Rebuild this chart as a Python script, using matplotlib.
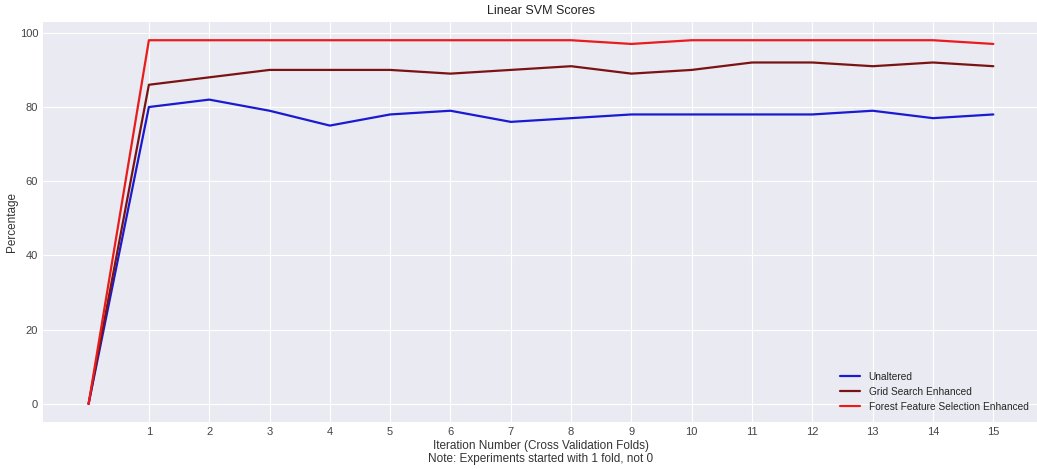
import matplotlib
matplotlib.use("Agg")
import matplotlib.pyplot as plt

plt.style.use("seaborn-v0_8-darkgrid")
plt.rcParams['font.family'] = ['Liberation Sans', 'DejaVu Sans']

iterations = list(range(0, 16))
unaltered = [0, 80, 82, 79, 75, 78, 79, 76, 77, 78, 78, 78, 78, 79, 77, 78]
grid_search = [0, 86, 88, 90, 90, 90, 89, 90, 91, 89, 90, 92, 92, 91, 92, 91]
forest = [0, 98, 98, 98, 98, 98, 98, 98, 98, 97, 98, 98, 98, 98, 98, 97]
xticks = list(range(1, 16))

fig = plt.figure(figsize=(10.37, 4.69), dpi=100)
ax = fig.add_axes([0.0415, 0.1, 0.96, 0.853])
ax.plot(iterations, unaltered, color='#1a1ad0', lw=1.6, label='Unaltered')
ax.plot(iterations, grid_search, color='#7a1414', lw=1.6, label='Grid Search Enhanced')
ax.plot(iterations, forest, color='#e81c1c', lw=1.6, label='Forest Feature Selection Enhanced')
ax.set_xticks(xticks)
ax.set_xticklabels([str(t) for t in xticks])
ax.set_xlim(-0.755, 15.75)
ax.tick_params(labelsize=8, colors='#444444')
ax.set_title('Linear SVM Scores', fontsize=9, color='#222222', pad=6)
ax.set_ylabel('Percentage', fontsize=8.5, color='#333333', labelpad=1)
ax.set_xlabel('Iteration Number (Cross Validation Folds)\nNote: Experiments started with 1 fold, not 0',
              fontsize=8.5, color='#333333', labelpad=2, linespacing=1.1)
leg = ax.legend(loc='lower right', fontsize=7.3, frameon=False, borderaxespad=0.6)
fig.savefig('out.png', dpi=100)
